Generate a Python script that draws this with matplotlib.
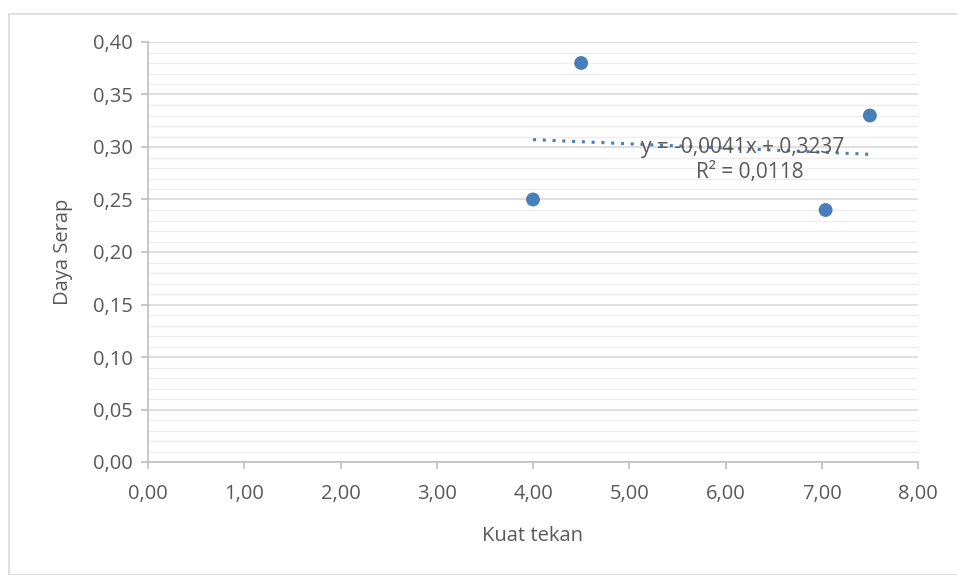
import numpy as np
import matplotlib.pyplot as plt
from matplotlib.patches import Rectangle
from matplotlib.ticker import MultipleLocator, FuncFormatter

kuat_tekan = [4.00, 4.50, 7.04, 7.50]
daya_serap = [0.25, 0.38, 0.24, 0.33]
persamaan = "y = -0,0041x + 0,3237"
r_kuadrat = "R² = 0,0118"

WARNA_TITIK = "#4A7EBB"
WARNA_TEKS = "#595959"
WARNA_SUMBU = "#BFBFBF"

plt.rcParams['font.family'] = ['Open Sans', 'DejaVu Sans']

fig = plt.figure(figsize=(9.57, 5.75), dpi=100)
fig.patches.append(Rectangle((9 / 957, 0), 1, 1 - 14 / 575, transform=fig.transFigure,
                             fill=False, edgecolor="#D9D9D9", linewidth=1.2))
ax = fig.add_axes([148 / 957, 1 - 462 / 575, 770 / 957, 420 / 575])

ax.set_xlim(0, 8)
ax.set_ylim(0, 0.40)
ax.xaxis.set_major_locator(MultipleLocator(1))
ax.yaxis.set_major_locator(MultipleLocator(0.05))
ax.yaxis.set_minor_locator(MultipleLocator(0.01))
koma = FuncFormatter(lambda v, pos: f"{v:.2f}".replace(".", ","))
ax.xaxis.set_major_formatter(koma)
ax.yaxis.set_major_formatter(koma)

ax.grid(axis="y", which="major", color="#D9D9D9", linewidth=1.2)
ax.grid(axis="y", which="minor", color="#EDEDED", linewidth=1.0)
ax.set_axisbelow(True)

for s in ["top", "right"]:
    ax.spines[s].set_visible(False)
for s in ["left", "bottom"]:
    ax.spines[s].set_color(WARNA_SUMBU)
    ax.spines[s].set_linewidth(1.2)
ax.tick_params(which="major", length=5, color=WARNA_SUMBU, width=1.2,
               labelsize=14.5, labelcolor=WARNA_TEKS)
ax.tick_params(axis="x", pad=11)
ax.tick_params(axis="y", pad=6)
ax.tick_params(axis="y", which="minor", length=0)

# garis tren linier
k = np.polyfit(kuat_tekan, daya_serap, 1)
xt = np.array([min(kuat_tekan), max(kuat_tekan)])
ax.plot(xt, np.polyval(k, xt), linestyle=(0, (1, 2.2)), color=WARNA_TITIK,
        linewidth=2.2, zorder=2)

ax.scatter(kuat_tekan, daya_serap, s=100, color=WARNA_TITIK, zorder=3,
           edgecolors="none")

ax.text(6.18, 0.2995, persamaan, fontsize=15, color=WARNA_TEKS,
        ha="center", va="center", zorder=4)
ax.text(6.25, 0.2755, r_kuadrat, fontsize=15, color=WARNA_TEKS,
        ha="center", va="center", zorder=4)

ax.set_xlabel("Kuat tekan", fontsize=14.5, color=WARNA_TEKS, labelpad=16)
ax.set_ylabel("Daya Serap", fontsize=14.5, color=WARNA_TEKS, labelpad=14)

fig.savefig("out.png", dpi=100)
